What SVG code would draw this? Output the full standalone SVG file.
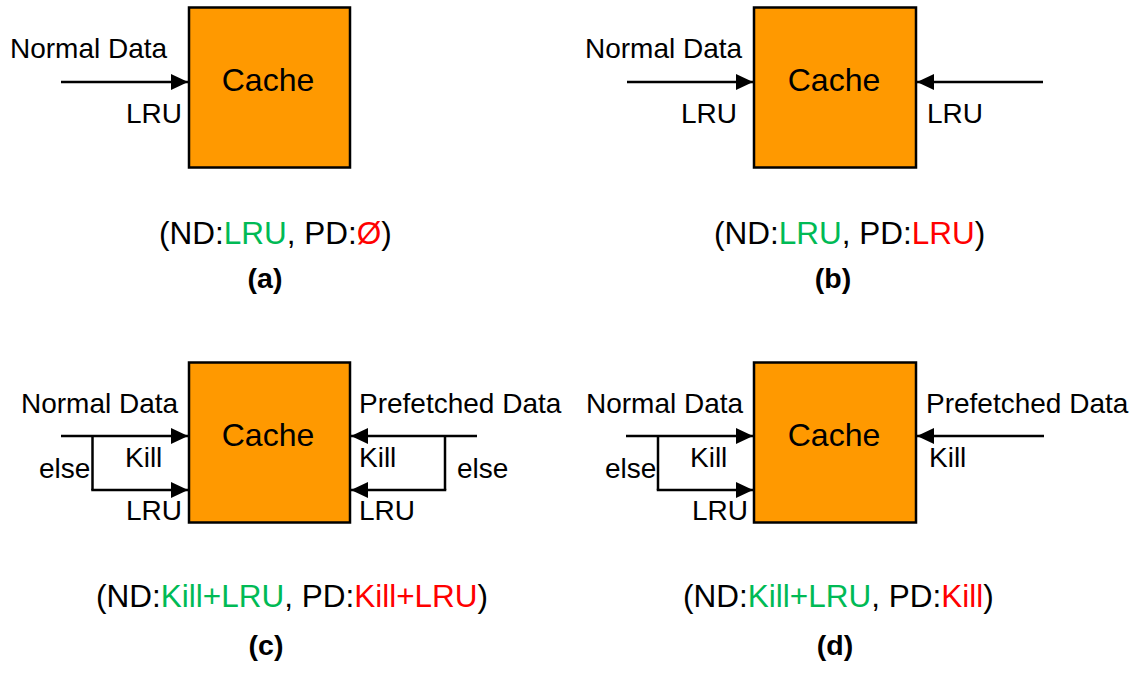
<svg xmlns="http://www.w3.org/2000/svg" width="1136" height="673" viewBox="0 0 1136 673">
<defs>
<style>
text{font-family:"Liberation Sans",Arial,Helvetica,sans-serif;fill:#000}
.lbl{font-size:28px}
.cache{font-size:32px}
.cap{font-size:31.5px}
.tag{font-size:28.5px;font-weight:bold}
.g{fill:#00BA55}
.r{fill:#FF0000}
.box{fill:#FF9900;stroke:#000;stroke-width:2.5}
.ln{fill:none;stroke:#000;stroke-width:2.5}
.arr{fill:none;stroke:#000;stroke-width:2.5;marker-end:url(#ah)}
</style>
<marker id="ah" viewBox="0 0 17 16" refX="17" refY="8" markerWidth="17" markerHeight="16" markerUnits="userSpaceOnUse" orient="auto">
<path d="M0,0 L17,8 L0,16 z" fill="#000"/>
</marker>
</defs>

<g id="cache-a">
<rect class="box" x="189" y="7.5" width="161" height="160"/>
<text class="cache" x="268" y="91" text-anchor="middle">Cache</text>
</g>
<g id="cache-b">
<rect class="box" x="754" y="7.5" width="162" height="160"/>
<text class="cache" x="834" y="91" text-anchor="middle">Cache</text>
</g>
<g id="cache-c">
<rect class="box" x="189" y="362.5" width="161" height="160"/>
<text class="cache" x="268" y="446" text-anchor="middle">Cache</text>
</g>
<g id="cache-d">
<rect class="box" x="754" y="362.5" width="162" height="160"/>
<text class="cache" x="834" y="446" text-anchor="middle">Cache</text>
</g>

<g id="connectors">
<line class="arr" x1="61" y1="82" x2="188" y2="82"/>
<line class="arr" x1="627" y1="82" x2="753" y2="82"/>
<line class="arr" x1="1043" y1="82" x2="917" y2="82"/>
<line class="arr" x1="61" y1="436" x2="188" y2="436"/>
<line class="ln" x1="92.5" y1="436" x2="92.5" y2="490"/>
<line class="arr" x1="91.25" y1="490" x2="188" y2="490"/>
<line class="arr" x1="477" y1="436" x2="351" y2="436"/>
<line class="ln" x1="445" y1="436" x2="445" y2="490"/>
<line class="arr" x1="446.25" y1="490" x2="351" y2="490"/>
<line class="arr" x1="626" y1="436" x2="753" y2="436"/>
<line class="ln" x1="658" y1="436" x2="658" y2="490"/>
<line class="arr" x1="656.75" y1="490" x2="753" y2="490"/>
<line class="arr" x1="1044" y1="436" x2="917" y2="436"/>
</g>

<g id="labels-a">
<text class="lbl" x="10" y="58">Normal Data</text>
<text class="lbl" x="126" y="123">LRU</text>
<text class="cap" x="159" y="244">(ND:<tspan class="g">LRU</tspan>, PD:<tspan class="r">Ø</tspan>)</text>
<text class="tag" x="265" y="288" text-anchor="middle">(a)</text>
</g>

<g id="labels-b">
<text class="lbl" x="585" y="58">Normal Data</text>
<text class="lbl" x="681" y="123">LRU</text>
<text class="lbl" x="927" y="123">LRU</text>
<text class="cap" x="714" y="244">(ND:<tspan class="g">LRU</tspan>, PD:<tspan class="r">LRU</tspan>)</text>
<text class="tag" x="833" y="288" text-anchor="middle">(b)</text>
</g>

<g id="labels-c">
<text class="lbl" x="21" y="413">Normal Data</text>
<text class="lbl" x="125" y="467">Kill</text>
<text class="lbl" x="39" y="478">else</text>
<text class="lbl" x="126" y="520">LRU</text>
<text class="lbl" x="359" y="413">Prefetched Data</text>
<text class="lbl" x="359" y="467">Kill</text>
<text class="lbl" x="457" y="478">else</text>
<text class="lbl" x="359" y="520">LRU</text>
<text class="cap" x="96" y="607">(ND:<tspan class="g">Kill+LRU</tspan>, PD:<tspan class="r">Kill+LRU</tspan>)</text>
<text class="tag" x="266" y="655" text-anchor="middle">(c)</text>
</g>

<g id="labels-d">
<text class="lbl" x="586" y="413">Normal Data</text>
<text class="lbl" x="690" y="467">Kill</text>
<text class="lbl" x="605" y="478">else</text>
<text class="lbl" x="692" y="520">LRU</text>
<text class="lbl" x="926" y="413">Prefetched Data</text>
<text class="lbl" x="929" y="467">Kill</text>
<text class="cap" x="683" y="607">(ND:<tspan class="g">Kill+LRU</tspan>, PD:<tspan class="r">Kill</tspan>)</text>
<text class="tag" x="835" y="655" text-anchor="middle">(d)</text>
</g>
</svg>
